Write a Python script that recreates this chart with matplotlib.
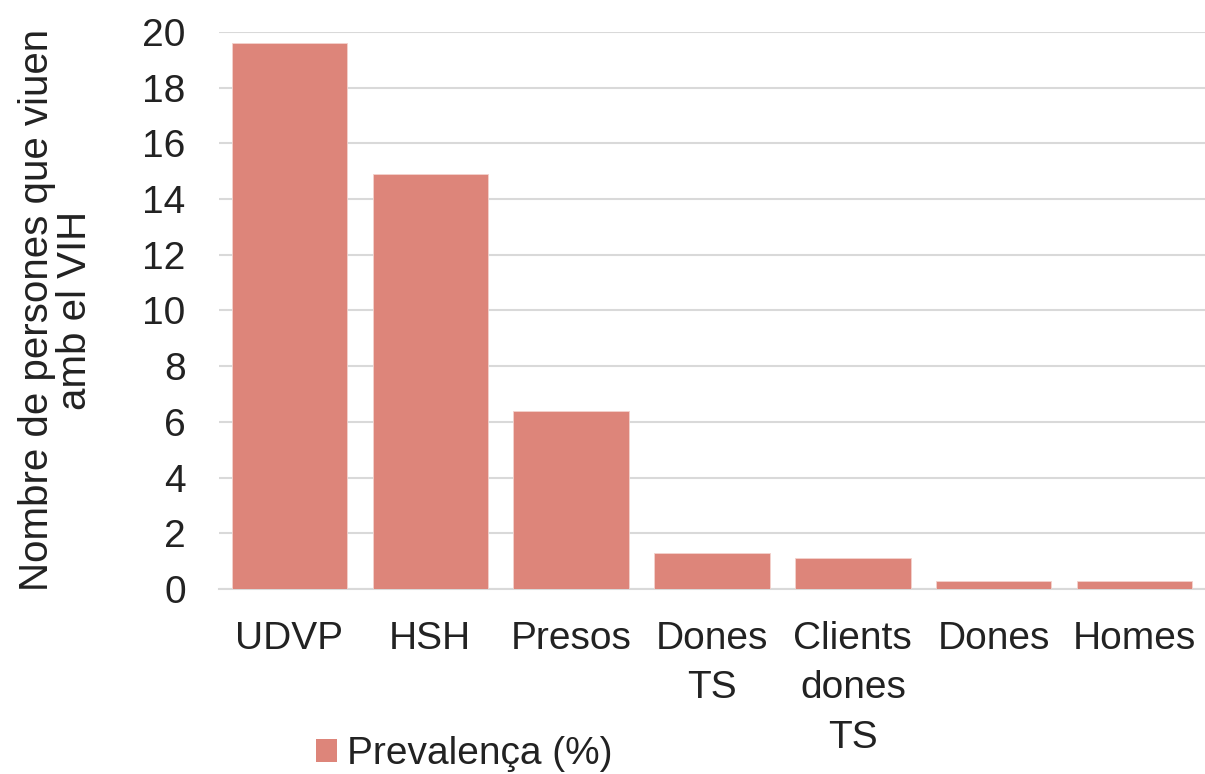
import matplotlib
matplotlib.use("Agg")
import matplotlib.pyplot as plt
from matplotlib.patches import Patch

categories = ["UDVP", "HSH", "Presos", "Dones\nTS", "Clients\ndones\nTS", "Dones", "Homes"]
prevalenca = [19.6, 14.9, 6.4, 1.3, 1.1, 0.3, 0.3]
yticks = [0, 2, 4, 6, 8, 10, 12, 14, 16, 18, 20]

plt.rcParams['font.family'] = ['Liberation Sans', 'DejaVu Sans']
bar_color = '#dd857a'
grid_color = '#d9d9d9'
text_color = '#222222'

fig = plt.figure(figsize=(12.05, 7.74), dpi=100)
ax = fig.add_axes([219/1205, 1-589/774, 1-219/1205, (589-32)/774])
x = list(range(len(categories)))
ax.bar(x, prevalenca, width=0.82, color=bar_color, edgecolor='#f3d2cd', linewidth=0.6, zorder=3)
ax.set_xlim(-0.5, len(categories)-0.5)
ax.set_ylim(0, 20)
ax.set_yticks(yticks)
ax.set_yticklabels([str(t) for t in yticks], fontsize=28, color=text_color)
ax.set_xticks(x)
ax.set_xticklabels(categories, fontsize=28, color=text_color, linespacing=1.48, va='top')
ax.tick_params(axis='y', length=0, pad=24)
ax.tick_params(axis='x', length=0, pad=23)
ax.grid(axis='y', color=grid_color, linewidth=1.5, zorder=0)
for s in ['top', 'right', 'left']:
    ax.spines[s].set_visible(False)
ax.spines['bottom'].set_color(grid_color)
ax.spines['bottom'].set_linewidth(1.5)

fig.text(56/1205, 1-310/774, "Nombre de persones que viuen\namb el VIH", rotation=90,
         ha='center', va='center', fontsize=29, color=text_color, linespacing=1.02)

fig.legend(handles=[Patch(facecolor=bar_color, label='Prevalença (%)')],
           loc='center', bbox_to_anchor=(464/1205, 1-754/774), frameon=False,
           fontsize=28, handlelength=0.55, handleheight=0.55, handletextpad=0.25,
           labelcolor=text_color, borderpad=0, borderaxespad=0)

fig.savefig("out.png", dpi=100)
